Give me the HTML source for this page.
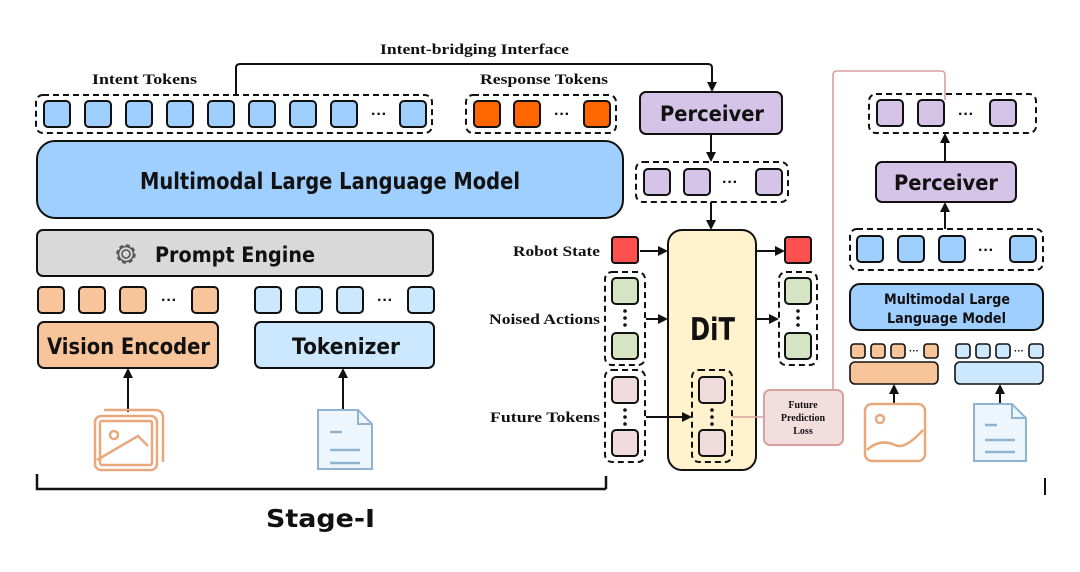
<!DOCTYPE html>
<html><head><meta charset="utf-8"><style>
html,body{margin:0;padding:0;background:#fff;width:1080px;height:572px;overflow:hidden}
svg{display:block}
.s{font-family:"Liberation Serif",serif;font-weight:bold;fill:#111}
.h{font-family:"DejaVu Sans","Liberation Sans",sans-serif;font-weight:bold;fill:#111}
</style></head><body>
<svg width="1080" height="572" viewBox="0 0 1080 572" xmlns="http://www.w3.org/2000/svg">
<defs>
<marker id="a" markerWidth="10" markerHeight="10" refX="8" refY="5" orient="auto" markerUnits="userSpaceOnUse"><path d="M0,0 L10,5 L0,10 z" fill="#111"/></marker>
</defs>
<g stroke="#111" stroke-width="2" fill="none">
<path d="M236,95 V68 Q236,64 240,64 H708 Q712,64 712,68 V90" marker-end="url(#a)"/>
</g>
<text x="380" y="54" class="s" font-size="15" textLength="189" lengthAdjust="spacingAndGlyphs">Intent-bridging Interface</text>
<text x="92" y="84" class="s" font-size="15" textLength="105" lengthAdjust="spacingAndGlyphs">Intent Tokens</text>
<text x="480" y="84" class="s" font-size="15" textLength="128" lengthAdjust="spacingAndGlyphs">Response Tokens</text>

<g stroke="#111" stroke-width="2">
<rect x="36" y="95" width="396" height="38" rx="7" fill="none" stroke-dasharray="6,4"/>
<g fill="#9fcfff">
<rect x="44" y="101" width="26" height="26" rx="4"/><rect x="85" y="101" width="26" height="26" rx="4"/>
<rect x="126" y="101" width="26" height="26" rx="4"/><rect x="167" y="101" width="26" height="26" rx="4"/>
<rect x="208" y="101" width="26" height="26" rx="4"/><rect x="249" y="101" width="26" height="26" rx="4"/>
<rect x="290" y="101" width="26" height="26" rx="4"/><rect x="331" y="101" width="26" height="26" rx="4"/>
<rect x="400" y="101" width="26" height="26" rx="4"/>
</g>
<rect x="466" y="95" width="150" height="38" rx="7" fill="none" stroke-dasharray="6,4"/>
<g fill="#ff6600">
<rect x="474" y="101" width="26" height="26" rx="4"/><rect x="514" y="101" width="26" height="26" rx="4"/><rect x="584" y="101" width="26" height="26" rx="4"/>
</g>
<rect x="37" y="141" width="586" height="77" rx="18" fill="#9fcfff"/>
<rect x="37" y="230" width="396" height="46" rx="6" fill="#d9d9d9"/>
<g fill="#f8c49a">
<rect x="38" y="287" width="26" height="26" rx="4"/><rect x="79" y="287" width="26" height="26" rx="4"/><rect x="120" y="287" width="26" height="26" rx="4"/><rect x="192" y="287" width="26" height="26" rx="4"/>
</g>
<g fill="#cce8ff">
<rect x="255" y="287" width="26" height="26" rx="4"/><rect x="296" y="287" width="26" height="26" rx="4"/><rect x="337" y="287" width="26" height="26" rx="4"/><rect x="408" y="287" width="26" height="26" rx="4"/>
</g>
<rect x="38" y="322" width="180" height="46" rx="6" fill="#f8c49a"/>
<rect x="255" y="322" width="179" height="46" rx="6" fill="#cce8ff"/>
</g>
<text x="140" y="189" class="h" font-size="23" textLength="380" lengthAdjust="spacingAndGlyphs">Multimodal Large Language Model</text>
<text x="155" y="262" class="h" font-size="21" textLength="160" lengthAdjust="spacingAndGlyphs">Prompt Engine</text>
<text x="47" y="354" class="h" font-size="22" textLength="163" lengthAdjust="spacingAndGlyphs">Vision Encoder</text>
<text x="292" y="354" class="h" font-size="22" textLength="108" lengthAdjust="spacingAndGlyphs">Tokenizer</text>
<g fill="#111" font-family="Liberation Sans" font-weight="bold" font-size="16" text-anchor="middle">
<text x="379" y="119">···</text><text x="562" y="119">···</text><text x="169" y="305">···</text><text x="385" y="305">···</text>
<text x="730" y="187">···</text><text x="966" y="119">···</text><text x="986" y="255">···</text>
</g>
<g stroke="#555" stroke-width="1.6" fill="none">
<circle cx="126" cy="254" r="4"/>
<circle cx="126" cy="254" r="9" stroke-dasharray="4,3"/>
<circle cx="126" cy="254" r="7.5"/>
</g>
<g stroke="#111" stroke-width="2" fill="none">
<path d="M128,412 V370" marker-end="url(#a)"/>
<path d="M343,412 V370" marker-end="url(#a)"/>
</g>
<g stroke="#e8a87c" stroke-width="2.5" fill="none">
<path d="M104,410 H155 Q163,410 163,418 V462"/>
<rect x="95" y="416" width="62" height="54" rx="6" fill="#fff"/>
<rect x="100" y="421" width="52" height="44" rx="2"/>
<circle cx="114" cy="435" r="4"/>
<path d="M97,460 L138,436 L148,446"/>
</g>
<g stroke="#8fb3d1" stroke-width="2" fill="#eef6fd">
<path d="M318,410 H358 L372,424 V469 H318 Z"/>
<path d="M358,410 V424 H372" fill="none"/>
<path d="M330,432 H342 M330,450 H360 M330,463 H360" stroke-width="2.5"/>
</g>
<g stroke="#111" stroke-width="2.5" fill="none">
<path d="M37,474 V489 H606 M606,476 V489"/>
<path d="M1045,478 V495" stroke-width="2"/>
</g>
<text x="266" y="527" class="h" font-size="25" textLength="109" lengthAdjust="spacingAndGlyphs">Stage-I</text>

<g stroke="#111" stroke-width="2">
<rect x="640" y="92" width="142" height="42" rx="6" fill="#d5c4e8"/>
<rect x="636" y="162" width="152" height="40" rx="7" fill="none" stroke-dasharray="6,4"/>
<g fill="#d5c4e8">
<rect x="644" y="169" width="26" height="26" rx="4"/><rect x="684" y="169" width="26" height="26" rx="4"/><rect x="756" y="169" width="26" height="26" rx="4"/>
</g>
<rect x="668" y="230" width="88" height="240" rx="14" fill="#fff2cc"/>
<rect x="612" y="237" width="26" height="26" rx="3" fill="#ff5050"/>
<rect x="785" y="237" width="26" height="26" rx="3" fill="#ff5050"/>
<rect x="605" y="272" width="40" height="93" rx="7" fill="none" stroke-dasharray="6,4"/>
<rect x="779" y="272" width="38" height="93" rx="7" fill="none" stroke-dasharray="6,4"/>
<rect x="605" y="370" width="40" height="92" rx="7" fill="none" stroke-dasharray="6,4"/>
<rect x="692" y="370" width="40" height="92" rx="7" fill="none" stroke-dasharray="6,4"/>
<g fill="#d5e4c3">
<rect x="612" y="278" width="26" height="26" rx="4"/><rect x="612" y="333" width="26" height="26" rx="4"/>
<rect x="785" y="278" width="26" height="26" rx="4"/><rect x="785" y="333" width="26" height="26" rx="4"/>
</g>
<g fill="#f0dcdc">
<rect x="612" y="377" width="26" height="26" rx="4"/><rect x="612" y="430" width="26" height="26" rx="4"/>
<rect x="699" y="377" width="26" height="26" rx="4"/><rect x="699" y="430" width="26" height="26" rx="4"/>
</g>
</g>
<g fill="#111">
<circle cx="625" cy="311" r="1.8"/><circle cx="625" cy="318" r="1.8"/><circle cx="625" cy="325" r="1.8"/>
<circle cx="798" cy="311" r="1.8"/><circle cx="798" cy="318" r="1.8"/><circle cx="798" cy="325" r="1.8"/>
<circle cx="625" cy="410" r="1.8"/><circle cx="625" cy="417" r="1.8"/><circle cx="625" cy="424" r="1.8"/>
<circle cx="712" cy="410" r="1.8"/><circle cx="712" cy="417" r="1.8"/><circle cx="712" cy="424" r="1.8"/>
</g>
<text x="660" y="121" class="h" font-size="21" textLength="104" lengthAdjust="spacingAndGlyphs">Perceiver</text>
<text x="690" y="340" class="h" font-size="31" textLength="45" lengthAdjust="spacingAndGlyphs">DiT</text>
<text x="513" y="256" class="s" font-size="15" textLength="87" lengthAdjust="spacingAndGlyphs">Robot State</text>
<text x="489" y="324" class="s" font-size="15" textLength="111" lengthAdjust="spacingAndGlyphs">Noised Actions</text>
<text x="490" y="422" class="s" font-size="15" textLength="110" lengthAdjust="spacingAndGlyphs">Future Tokens</text>
<g stroke="#111" stroke-width="2" fill="none">
<path d="M711,134 V160" marker-end="url(#a)"/>
<path d="M711,202 V228" marker-end="url(#a)"/>
<path d="M640,251 H666" marker-end="url(#a)"/>
<path d="M646,319 H666" marker-end="url(#a)"/>
<path d="M646,417 H690" marker-end="url(#a)"/>
<path d="M756,251 H783" marker-end="url(#a)"/>
<path d="M756,319 H777" marker-end="url(#a)"/>
</g>
<g stroke="#d9a0a0" stroke-width="1.6" fill="none">
<path d="M732,417 H764"/>
<path d="M833,390 V75 Q833,71 837,71 H941 Q945,71 945,75 V100"/>
</g>
<rect x="764" y="390" width="79" height="55" rx="6" fill="#f3dede" stroke="#d9a0a0" stroke-width="2"/>
<g class="s" font-size="10" text-anchor="middle">
<text x="803" y="408">Future</text><text x="803" y="421">Prediction</text><text x="803" y="434">Loss</text>
</g>

<g stroke="#111" stroke-width="2">
<rect x="869" y="94" width="167" height="39" rx="7" fill="none" stroke-dasharray="6,4"/>
<g fill="#d5c4e8">
<rect x="877" y="100" width="26" height="26" rx="4"/><rect x="918" y="100" width="26" height="26" rx="4"/><rect x="990" y="100" width="26" height="26" rx="4"/>
</g>
<rect x="876" y="162" width="140" height="40" rx="6" fill="#d5c4e8"/>
<rect x="850" y="229" width="193" height="41" rx="7" fill="none" stroke-dasharray="6,4"/>
<g fill="#9fcfff">
<rect x="857" y="236" width="26" height="26" rx="4"/><rect x="898" y="236" width="26" height="26" rx="4"/><rect x="939" y="236" width="26" height="26" rx="4"/><rect x="1010" y="236" width="26" height="26" rx="4"/>
</g>
<rect x="850" y="284" width="193" height="46" rx="10" fill="#9fcfff"/>
<g fill="#f8c49a" stroke-width="1.6">
<rect x="851" y="344" width="14" height="14" rx="3"/><rect x="871" y="344" width="14" height="14" rx="3"/><rect x="891" y="344" width="14" height="14" rx="3"/><rect x="924" y="344" width="14" height="14" rx="3"/>
<rect x="850" y="362" width="88" height="22" rx="5"/>
</g>
<g fill="#cce8ff" stroke-width="1.6">
<rect x="956" y="344" width="14" height="14" rx="3"/><rect x="976" y="344" width="14" height="14" rx="3"/><rect x="996" y="344" width="14" height="14" rx="3"/><rect x="1029" y="344" width="14" height="14" rx="3"/>
<rect x="955" y="362" width="88" height="22" rx="5"/>
</g>
</g>
<text x="894" y="190" class="h" font-size="21" textLength="104" lengthAdjust="spacingAndGlyphs">Perceiver</text>
<text x="884" y="304" class="h" font-size="14" textLength="126" lengthAdjust="spacingAndGlyphs">Multimodal Large</text>
<text x="887" y="323" class="h" font-size="14" textLength="119" lengthAdjust="spacingAndGlyphs">Language Model</text>
<g fill="#111" font-family="Liberation Sans" font-weight="bold" font-size="10" text-anchor="middle">
<text x="914" y="354">···</text><text x="1019" y="354">···</text>
</g>
<g stroke="#111" stroke-width="2" fill="none">
<path d="M945,162 V135" marker-end="url(#a)"/>
<path d="M945,229 V204" marker-end="url(#a)"/>
<path d="M894,404 V386" marker-end="url(#a)"/>
<path d="M1000,404 V386" marker-end="url(#a)"/>
</g>
<g stroke="#e8a87c" stroke-width="2.5" fill="none">
<rect x="865" y="404" width="60" height="57" rx="7"/>
<circle cx="880" cy="419" r="4"/>
<path d="M867,450 Q880,438 895,445 Q905,450 923,430"/>
</g>
<g stroke="#8fb3d1" stroke-width="2" fill="#eef6fd">
<path d="M974,404 H1012 L1026,418 V461 H974 Z"/>
<path d="M1012,404 V418 H1026" fill="none"/>
<path d="M985,425 H997 M985,440 H1015 M985,452 H1015" stroke-width="2.5"/>
</g>
</svg>
</body></html>
